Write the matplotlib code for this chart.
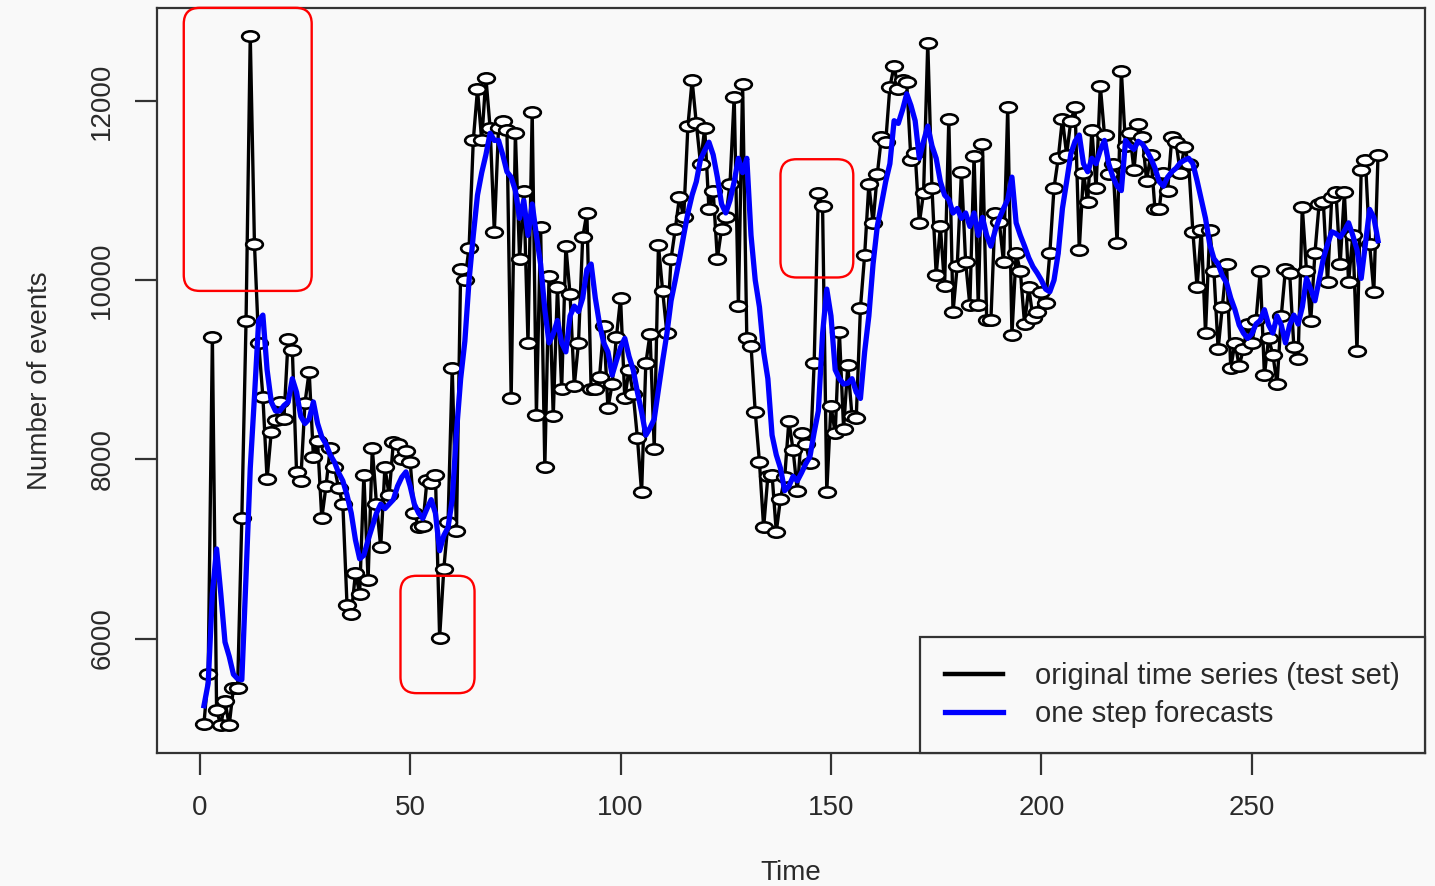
import matplotlib
matplotlib.use("Agg")
import matplotlib.pyplot as plt
import numpy as np
from matplotlib.path import Path
import matplotlib.transforms as mtransforms
from matplotlib.lines import Line2D
from matplotlib.patches import FancyBboxPatch

# ---------------- data ----------------
original = [
    5050, 5600, 9360, 5200, 5030, 5300, 5030, 5450, 5450, 7350,
    9540, 12730, 10400, 9300, 8700, 7780, 8310, 8440, 8640, 8450,
    9340, 9220, 7860, 7760, 8630, 8980, 8030, 8200, 7340, 7700,
    8130, 7910, 7680, 7500, 6370, 6270, 6730, 6500, 7830, 6650,
    8130, 7500, 7020, 7910, 7600, 8190, 8170, 8000, 8090, 7970,
    7400, 7240, 7260, 7770, 7740, 7830, 6010, 6780, 7300, 9020,
    7200, 10120, 10000, 10360, 11560, 12130, 11560, 12260, 11700, 10540,
    11700, 11780, 11680, 8680, 11640, 10240, 11000, 9300, 11880, 8500,
    10590, 7910, 10050, 8480, 9920, 8780, 10380, 9840, 8820, 9300,
    10480, 10750, 8780, 8780, 8920, 9490, 8570, 8840, 9360, 9800,
    8680, 9000, 8730, 8240, 7630, 9070, 9400, 8120, 10390, 9880,
    9410, 10240, 10570, 10930, 10700, 11720, 12230, 11750, 11300, 11700,
    10790, 11000, 10240, 10570, 10700, 11070, 12050, 9710, 12190, 9350,
    9270, 8530, 7970, 7240, 7810, 7830, 7190, 7560, 7800, 8430,
    8100, 7650, 8290, 8170, 7960, 9070, 10970, 10830, 7640, 8600,
    8290, 9420, 8340, 9050, 8480, 8460, 9690, 10280, 11070, 10640,
    11180, 11600, 11540, 12160, 12390, 12130, 12230, 12210, 11340, 11420,
    10640, 10970, 12650, 11030, 10060, 10600, 9930, 11800, 9640, 10160,
    11210, 10200, 9720, 11390, 9720, 11520, 9550, 9550, 10750, 10650,
    10200, 11930, 9390, 10300, 10100, 9510, 9920, 9580, 9640, 9870,
    9740, 10300, 11030, 11360, 11800, 11400, 11780, 11930, 10340, 11200,
    10870, 11680, 11030, 12170, 11620, 11180, 11300, 10410, 12340, 11500,
    11640, 11230, 11740, 11600, 11110, 11400, 10790, 10790, 11200, 11000,
    11600, 11540, 11200, 11490, 11300, 10540, 9920, 10560, 9410, 10560,
    10100, 9230, 9700, 10180, 9020, 9300, 9040, 9230, 9510, 9300,
    9550, 10100, 8940, 9350, 9170, 8840, 9600, 10120, 10080, 9250,
    9120, 10820, 10100, 9540, 10300, 10850, 10870, 9980, 10930, 10980,
    10180, 10980, 9980, 10500, 9210, 11230, 11340, 10400, 9870, 11400,
]

forecast = [
    5250, 5500, 6500, 7000, 6500, 5960, 5800, 5600, 5550, 5540,
    6700, 7900, 8700, 9550, 9610, 9000, 8640, 8540, 8540, 8600,
    8640, 8900, 8750, 8480, 8400, 8450, 8640, 8400, 8250, 8170,
    8050, 7970, 7850, 7760, 7600, 7400, 7100, 6890, 6930, 7100,
    7250, 7400, 7500, 7450, 7500, 7550, 7700, 7800, 7860, 7700,
    7500, 7400, 7340, 7450, 7550, 7400, 6980, 7150, 7240, 7550,
    8300, 8900, 9320, 10000, 10500, 10950, 11200, 11400, 11640, 11560,
    11560, 11400, 11210, 11150, 11000, 10690, 10890, 10500, 10850, 10500,
    10180, 9670, 9300, 9400, 9550, 9300, 9200, 9600, 9710, 9650,
    9800, 10120, 10180, 9800, 9510, 9300, 9200, 8940, 9100, 9250,
    9350, 9150, 9000, 8750, 8530, 8270, 8350, 8450, 8780, 9100,
    9400, 9770, 10000, 10240, 10500, 10750, 10950, 11100, 11350, 11450,
    11540, 11400, 11150, 10850, 10750, 10890, 11100, 11360, 11200, 11360,
    10500, 10000, 9700, 9200, 8900, 8270, 8050, 7900, 7650, 7700,
    7810, 7760, 7850, 7950, 8030, 8300, 8540, 9400, 9900, 9600,
    9000, 8900, 8840, 8850, 8900, 8750, 8680, 9200, 9600, 10180,
    10600, 10850, 11100, 11300, 11780, 11750, 11900, 12080, 11950, 11780,
    11360, 11550, 11720, 11500, 11360, 11100, 10950, 10900, 10750, 10800,
    10690, 10750, 10600, 10750, 10500, 10700, 10500, 10380, 10550, 10690,
    10800, 10900, 11150, 10640, 10500, 10380, 10250, 10150, 10080, 10000,
    9900, 9870, 10000, 10300, 10800, 11100, 11410, 11550, 11620, 11300,
    11210, 11360, 11300, 11450, 11560, 11300, 11150, 11050, 11000, 11560,
    11500, 11460, 11550, 11520, 11450, 11360, 11250, 11100, 11050, 11150,
    11210, 11250, 11310, 11340, 11360, 11300, 11110, 10900, 10690, 10400,
    10240, 10180, 10050, 9970, 9800, 9670, 9500, 9410, 9350, 9400,
    9510, 9550, 9670, 9500, 9410, 9600, 9500, 9300, 9500, 9610,
    9510, 9700, 10020, 9900, 9770, 10000, 10240, 10400, 10540, 10520,
    10480, 10550, 10640, 10500, 10340, 10020, 10400, 10790, 10700, 10440,
]

time = np.arange(1, len(original) + 1)

x_ticks = [0, 50, 100, 150, 200, 250]
y_ticks = [6000, 8000, 10000, 12000]
legend_labels = ["original time series (test set)", "one step forecasts"]

# highlight boxes (annotation): (x0, x1, y0, y1) in data units
highlight_boxes = [(-3.8, 26.6, 9880, 13040), (47.7, 65.3, 5390, 6700), (138.0, 155.3, 10030, 11350)]

# ---------------- style ----------------
plt.rcParams['font.family'] = ['Liberation Sans', 'DejaVu Sans']
text_col = '#2a2a2a'
bg = '#f9f9f9'

fig = plt.figure(figsize=(14.35, 8.86), dpi=100, facecolor=bg)
ax = fig.add_axes([157/1435, 1 - 753/886, (1425 - 157)/1435, (753 - 8)/886])
ax.set_facecolor(bg)

ell = Path.unit_circle().transformed(mtransforms.Affine2D().scale(1.0, 0.62))

ax.plot(time, original, color='black', lw=2.4, marker=ell, markersize=12,
        markerfacecolor='white', markeredgecolor='black', markeredgewidth=1.9, zorder=2)
ax.plot(time, forecast, color='#0000ff', lw=3.8, zorder=3)

n = len(original)
pad_x = 0.04 * (n - 1)
ax.set_xlim(1 - pad_x, n + pad_x)
lo, hi = min(original), max(original)
pad_y = 0.04 * (hi - lo)
ax.set_ylim(lo - pad_y, hi + pad_y)

ax.set_xticks(x_ticks)
ax.set_yticks(y_ticks)
ax.set_yticklabels([str(v) for v in y_ticks], rotation=90, va='center')
ax.tick_params(axis='both', direction='out', length=16, width=1.6, colors='#333333',
               labelsize=20, labelcolor=text_col)
ax.tick_params(axis='x', pad=14)
ax.tick_params(axis='y', pad=14)
for s in ax.spines.values():
    s.set_linewidth(1.6)
    s.set_color('#333333')

ax.set_xlabel('Time', fontsize=20, color=text_col, labelpad=28)
ax.set_ylabel('Number of events', fontsize=20, color=text_col, labelpad=26)

# rounded red highlight boxes, drawn in pixel space so the corners are round
for (x0, x1, y0, y1) in highlight_boxes:
    (dx0, dy0) = ax.transData.transform((x0, y0))
    (dx1, dy1) = ax.transData.transform((x1, y1))
    box = FancyBboxPatch((dx0, dy0), dx1 - dx0, dy1 - dy0,
                         boxstyle='round,pad=0,rounding_size=16',
                         transform=mtransforms.IdentityTransform(),
                         fill=False, edgecolor='#ff0000', lw=1.7, zorder=5)
    fig.add_artist(box)

handles = [Line2D([], [], color='black', lw=3.2), Line2D([], [], color='#0000ff', lw=3.8)]
leg = ax.legend(handles, legend_labels, loc='lower right', borderaxespad=0, fancybox=False,
                frameon=True, fontsize=21, handlelength=2.0, handletextpad=1.1,
                borderpad=0.85, labelspacing=0.35, edgecolor='#333333', framealpha=1)
leg.get_frame().set_facecolor(bg)
leg.get_frame().set_linewidth(1.6)
for t in leg.get_texts():
    t.set_color(text_col)

fig.savefig('out.png', dpi=100, facecolor=fig.get_facecolor())
